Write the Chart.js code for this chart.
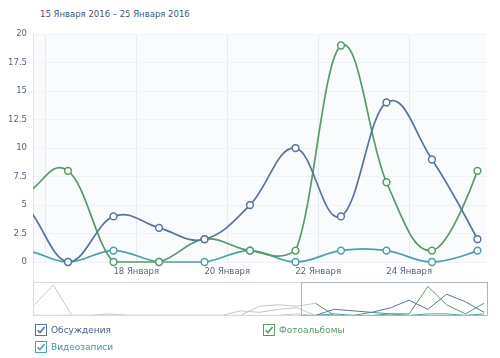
<!DOCTYPE html>
<html>
<head>
<meta charset="utf-8">
<script src="https://cdn.jsdelivr.net/npm/chart.js@4.4.1/dist/chart.umd.min.js"></script>
<style>
  body { margin: 0; width: 500px; height: 358px; background: #fff; position: relative; overflow: hidden;
         font-family: "DejaVu Sans", sans-serif; }
  #title { position: absolute; left: 40px; top: 9px; font-size: 8.5px; color: #45566e; }
  #mainWrap { position: absolute; left: 0; top: 23px; width: 500px; height: 260px; }
  #navWrap { position: absolute; left: 33px; top: 282px; width: 455px; height: 34px; }
  .leg { position: absolute; font-size: 9px; display: flex; align-items: center; }
  .leg svg { margin-right: 4px; }
</style>
</head>
<body>
<div id="title">15 Января 2016 – 25 Января 2016</div>
<div id="mainWrap"><canvas id="mainChart"></canvas></div>
<div id="navWrap"><canvas id="navChart"></canvas></div>
<div id="legend"></div>
<script>
// day of January 2016, each value counted for the whole day (drawn at noon)
const days = [1, 2, 3, 4, 5, 6, 7, 8, 9, 10, 11, 12, 13, 14, 15, 16, 17, 18, 19, 20, 21, 22, 23, 24, 25];
const discussions = [7, 20, 0, 0, 1, 0, 0, 0, 0, 0, 0, 3, 2, 4, 5, 0, 4, 3, 2, 5, 10, 4, 14, 9, 2];
const photos = [0, 0, 0, 0, 0, 0, 0, 0, 0, 0, 0, 0, 6, 7, 6, 8, 0, 0, 2, 1, 1, 19, 7, 1, 8];
const videos = [0, 0, 0, 0, 0, 0, 0, 0, 0, 0, 0, 0, 0, 0, 1, 0, 1, 0, 0, 1, 0, 1, 1, 0, 1];

const seriesNames = ['Обсуждения', 'Фотоальбомы', 'Видеозаписи'];
const seriesColors = ['#587599', '#5a9a69', '#4f9fa9'];
const textColors = ['#4a6287', '#5a9a69', '#3f95a0'];

const xTickDays = [16, 18, 20, 22, 24];
const yTicks = [0, 2.5, 5, 7.5, 10, 12.5, 15, 17.5, 20];

const viewMin = 15.73, viewMax = 25.71;   // visible window (days)
const navMin = 1.42, navMax = 25.71;

function toPoints(values) {
  return values.map((v, i) => ({ x: days[i] + 0.5, y: v }));
}

const allSeries = [discussions, photos, videos];

// spline handles at 0.4 of the gap with the tangent through the point,
// control points kept inside the plot area
const splinePlugin = {
  id: 'spline',
  beforeDatasetDraw(chart, args) {
    const meta = args.meta;
    const pts = meta.data;
    const area = chart.chartArea;
    const k = 1.5, d = k + 1;
    const capY = y => Math.max(area.top, Math.min(area.bottom, y));
    pts.forEach((p, i) => {
      const prev = pts[i - 1], next = pts[i + 1];
      if (!prev || !next) {
        p.cp1x = p.x; p.cp1y = p.y; p.cp2x = p.x; p.cp2y = p.y;
        return;
      }
      const lx = (k * p.x + prev.x) / d, ly = (k * p.y + prev.y) / d;
      const rx = (k * p.x + next.x) / d, ry = (k * p.y + next.y) / d;
      let corr = 0;
      if (rx !== lx) corr = ((ry - ly) * (rx - p.x)) / (rx - lx) + p.y - ry;
      p.cp1x = lx; p.cp1y = ly + corr;
      p.cp2x = rx; p.cp2y = ry + corr;
      if (p.x >= area.left) {
        p.cp1y = capY(p.cp1y);
        p.cp2y = capY(p.cp2y);
      }
    });
    meta.dataset._pointsUpdated = true;
    meta.dataset._path = undefined;
  }
};

const mainCtx = document.querySelector('#mainChart').getContext('2d');
new Chart(mainCtx, {
  type: 'line',
  data: {
    datasets: allSeries.map((vals, i) => ({
      label: seriesNames[i],
      data: toPoints(vals).filter(p => p.x > viewMin - 2.1),
      borderColor: seriesColors[i],
      borderWidth: 1.7,
      tension: 0.4,
      pointRadius: 3.4,
      pointBorderWidth: 1.5,
      pointBackgroundColor: '#fff',
      pointBorderColor: seriesColors[i],
      clip: { left: 0, top: 8, right: 8, bottom: 8 }
    }))
  },
  options: {
    responsive: true,
    maintainAspectRatio: false,
    animation: false,
    layout: { padding: { top: 8, right: 13, left: 0, bottom: 0 } },
    plugins: { legend: { display: false }, tooltip: { enabled: false } },
    scales: {
      x: {
        type: 'linear',
        min: viewMin,
        max: viewMax,
        afterBuildTicks: s => { s.ticks = xTickDays.map(v => ({ value: v })); },
        afterFit: s => { s.height = 21; },
        grid: { color: '#e7ebf1', drawTicks: false },
        border: { display: false },
        ticks: {
          padding: 5,
          maxRotation: 0,
          autoSkip: false,
          color: '#55667d',
          font: { family: 'DejaVu Sans', size: 8.5 },
          callback: v => v === 16 ? '' : v + ' Января'
        }
      },
      y: {
        min: 0,
        max: 20,
        afterBuildTicks: s => { s.ticks = yTicks.map(v => ({ value: v })); },
        afterFit: s => { s.width = 33; },
        grid: { color: '#eef1f5', drawTicks: false },
        border: { display: true, color: '#dde3ea' },
        ticks: {
          padding: 6,
          color: '#55667d',
          font: { family: 'DejaVu Sans', size: 8.5 }
        }
      }
    }
  },
  plugins: [splinePlugin, {
    id: 'plotBg',
    beforeDraw(chart) {
      const a = chart.chartArea, c = chart.ctx;
      c.save();
      c.fillStyle = '#fafbfd';
      c.fillRect(a.left, a.top, a.right - a.left, a.bottom - a.top);
      c.restore();
    },
    afterDraw(chart) {
      const a = chart.chartArea, c = chart.ctx;
      c.save();
      c.strokeStyle = '#dde3ea';
      c.beginPath();
      c.moveTo(a.left + 0.5, a.bottom);
      c.lineTo(a.left + 0.5, chart.height);
      c.stroke();
      c.restore();
    }
  }]
});

const navCtx = document.querySelector('#navChart').getContext('2d');
new Chart(navCtx, {
  type: 'line',
  data: {
    datasets: allSeries.map((vals, i) => ({
      label: seriesNames[i],
      data: toPoints(vals),
      borderColor: seriesColors[i],
      borderWidth: 1,
      pointRadius: 0,
      tension: 0,
      segment: {
        borderColor: c => c.p0.parsed.x < viewMin ? '#c3c9cf' : seriesColors[i]
      }
    }))
  },
  options: {
    responsive: true,
    maintainAspectRatio: false,
    animation: false,
    layout: { padding: 0 },
    plugins: { legend: { display: false }, tooltip: { enabled: false } },
    scales: {
      x: { type: 'linear', display: false, min: navMin, max: navMax },
      y: { display: false, min: -0.4, max: 22 }
    }
  },
  plugins: [{
    id: 'navFrame',
    afterDraw(chart) {
      const a = chart.chartArea, c = chart.ctx;
      const sx = chart.scales.x.getPixelForValue(viewMin);
      const ex = chart.scales.x.getPixelForValue(viewMax);
      c.save();
      c.lineWidth = 1;
      c.strokeStyle = '#d6dce3';
      c.strokeRect(a.left + 0.5, a.top + 0.5, a.right - a.left - 1, a.bottom - a.top - 1);
      c.strokeStyle = '#aab5c1';
      c.strokeRect(Math.round(sx) + 0.5, a.top + 0.5, ex - sx - 1, a.bottom - a.top - 1);
      c.restore();
    }
  }]
});

// legend with check boxes
const legendPos = [[35, 324], [263, 324], [35, 341]];
const legend = document.querySelector('#legend');
seriesNames.forEach((name, i) => {
  const el = document.createElement('div');
  el.className = 'leg';
  el.style.left = legendPos[i][0] + 'px';
  el.style.top = legendPos[i][1] + 'px';
  el.style.color = textColors[i];
  el.innerHTML =
    '<svg width="12" height="12" viewBox="0 0 12 12">' +
    '<rect x="0.5" y="0.5" width="11" height="11" fill="#fff" stroke="' + seriesColors[i] + '"/>' +
    '<path d="M2.6 6.2 L5 8.6 L9.6 3" fill="none" stroke="' + seriesColors[i] + '" stroke-width="1.6"/>' +
    '</svg><span>' + name + '</span>';
  legend.appendChild(el);
});
</script>
</body>
</html>
